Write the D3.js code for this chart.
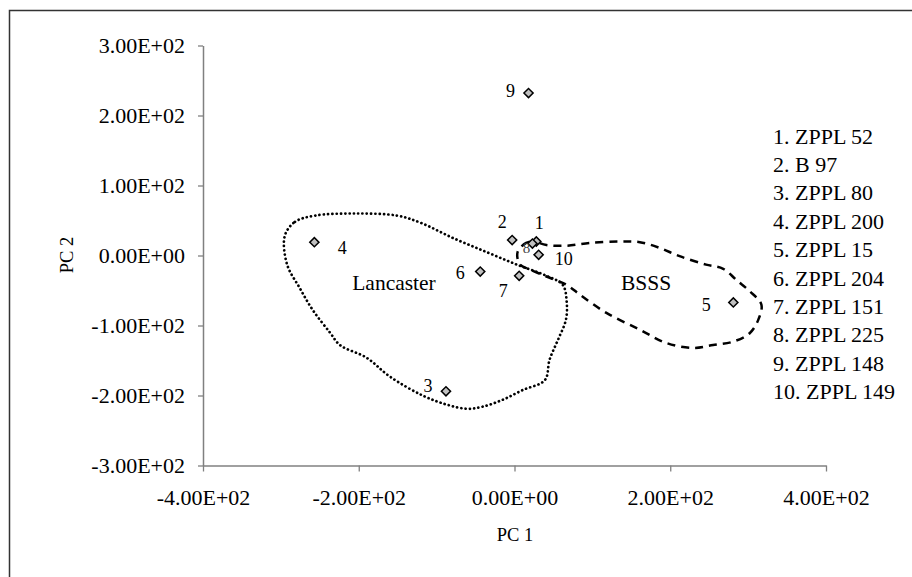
<!DOCTYPE html>
<html>
<head>
<meta charset="utf-8">
<script src="https://cdn.jsdelivr.net/npm/d3@7"></script>
<style>
  html, body { margin: 0; padding: 0; background: #fff; }
  svg { display: block; font-family: "Liberation Serif", "Times New Roman", serif; }
</style>
</head>
<body>
<svg id="chart" width="912" height="577"></svg>
<script>
// accession numbers and PCA scores
const ids = [1, 2, 3, 4, 5, 6, 7, 8, 9, 10];
const pc1 = [28, -3, -88, -257, 281, -44, 6, 23, 18, 31];
const pc2 = [20, 22, -194, 19, -67, -23, -29, 17, 232, 1];
const names = ["ZPPL 52", "B 97", "ZPPL 80", "ZPPL 200", "ZPPL 15", "ZPPL 204", "ZPPL 151", "ZPPL 225", "ZPPL 148", "ZPPL 149"];

const xTicks = [-400, -200, 0, 200, 400];
const yTicks = [-300, -200, -100, 0, 100, 200, 300];

// hand drawn group outlines, in PC units
const lancasterX = [-295, -282, -256, -205, -151, -121, -79, -36, 3, 41, 62, 67, 66, 56, 45, 39, 11, -15, -41, -61, -87, -118, -160, -190, -224, -237, -259, -276, -292];
const lancasterY = [28, 48, 57, 60, 57, 47, 25, 5, -13, -29, -42, -66, -92, -120, -149, -178, -192, -206, -216, -219, -213, -200, -173, -146, -128, -110, -78, -46, -13];
const bsssX = [4, 15, 24, 41, 67, 97, 135, 161, 186, 212, 246, 268, 285, 302, 317, 313, 302, 281, 255, 229, 195, 161, 118, 84, 67, 41, 20, 7];
const bsssY = [5, 18, 20, 15, 14, 18, 20, 19, 11, -1, -13, -19, -35, -51, -70, -92, -111, -123, -128, -132, -125, -106, -82, -56, -42, -30, -20, -13];

const svg = d3.select("#chart");

// outer chart frame (right and bottom fall outside the picture)
svg.append("rect")
    .attr("x", 9.5).attr("y", 10.5)
    .attr("width", 1000).attr("height", 1000)
    .attr("fill", "none")
    .attr("stroke", "#333")
    .attr("stroke-width", 1.5);

const x = d3.scaleLinear().domain([-400, 400]).range([203, 826]);
const y = d3.scaleLinear().domain([-300, 300]).range([465.5, 45.5]);

function sci(v) {
    if (v === 0) return "0.00E+00";
    const e = Math.floor(Math.log10(Math.abs(v)));
    const m = v / Math.pow(10, e);
    return (m < 0 ? "-" : "") + Math.abs(m).toFixed(2) + "E" + (e < 0 ? "-" : "+") + String(Math.abs(e)).padStart(2, "0");
}

const axisColor = "#808080";

const gx = svg.append("g")
    .attr("transform", `translate(0,${y(-300)})`)
    .call(d3.axisBottom(x).tickValues(xTicks).tickFormat(sci).tickSize(6).tickSizeOuter(0).tickPadding(20));

const gy = svg.append("g")
    .attr("transform", `translate(${x(-400)},0)`)
    .call(d3.axisLeft(y).tickValues(yTicks).tickFormat(sci).tickSize(5).tickSizeOuter(0).tickPadding(13));

[gx, gy].forEach(g => {
    g.select(".domain").attr("stroke", axisColor).attr("stroke-width", 1.5);
    g.selectAll(".tick line").attr("stroke", axisColor).attr("stroke-width", 1.3);
    g.selectAll(".tick text")
        .attr("fill", "#000")
        .attr("font-family", "Liberation Serif, Times New Roman, serif")
        .attr("font-size", 22);
});
gx.selectAll(".tick text").attr("dy", "0.6em");

// axis titles
svg.append("text")
    .attr("x", 515).attr("y", 541)
    .attr("text-anchor", "middle")
    .attr("font-size", 18.5)
    .text("PC 1");

svg.append("text")
    .attr("transform", "translate(73,255) rotate(-90)")
    .attr("text-anchor", "middle")
    .attr("font-size", 18.5)
    .text("PC 2");

// group outlines
const outline = d3.line()
    .x(d => x(d[0]))
    .y(d => y(d[1]))
    .curve(d3.curveCatmullRomClosed.alpha(0.5));

svg.append("path")
    .attr("d", outline(d3.zip(lancasterX, lancasterY)))
    .attr("fill", "none")
    .attr("stroke", "#000")
    .attr("stroke-width", 2.7)
    .attr("stroke-linecap", "round")
    .attr("stroke-dasharray", "0.1 4.2");

svg.append("path")
    .attr("d", outline(d3.zip(bsssX, bsssY)))
    .attr("fill", "none")
    .attr("stroke", "#000")
    .attr("stroke-width", 2.5)
    .attr("stroke-dasharray", "8 6");

svg.append("text")
    .attr("x", 394).attr("y", 290)
    .attr("text-anchor", "middle")
    .attr("font-size", 21.5)
    .text("Lancaster");

svg.append("text")
    .attr("x", 646).attr("y", 290)
    .attr("text-anchor", "middle")
    .attr("font-size", 21.5)
    .text("BSSS");

// points
const pts = ids.map((id, i) => ({ id: id, pc1: pc1[i], pc2: pc2[i] }));

const diamond = d3.symbol().type(d3.symbolSquare).size(42);

svg.append("g").selectAll("path")
    .data(pts)
    .join("path")
    .attr("d", diamond)
    .attr("transform", d => `translate(${x(d.pc1)},${y(d.pc2)}) rotate(45)`)
    .attr("fill", "#c0c0c0")
    .attr("stroke", "#000")
    .attr("stroke-width", 1.5);

// number labels next to points
const labelShift = {
    1: [3, -19], 2: [-10, -18], 3: [-18, -6], 4: [28, 5], 5: [-27, 2],
    6: [-20, 1], 7: [-16, 15], 8: [-6, 4], 9: [-18, -2], 10: [25, 4]
};

svg.append("g").selectAll("text")
    .data(pts)
    .join("text")
    .attr("x", d => x(d.pc1) + labelShift[d.id][0])
    .attr("y", d => y(d.pc2) + labelShift[d.id][1])
    .attr("dy", "0.35em")
    .attr("text-anchor", "middle")
    .attr("font-size", d => d.id === 8 ? 15 : 18)
    .attr("fill", d => d.id === 8 ? "#444" : "#000")
    .text(d => d.id);

// key
svg.append("g").selectAll("text")
    .data(names)
    .join("text")
    .attr("x", 773)
    .attr("y", (d, i) => 143.5 + i * 28.4)
    .attr("font-size", 22)
    .text((d, i) => `${ids[i]}. ${d}`);
</script>
</body>
</html>
